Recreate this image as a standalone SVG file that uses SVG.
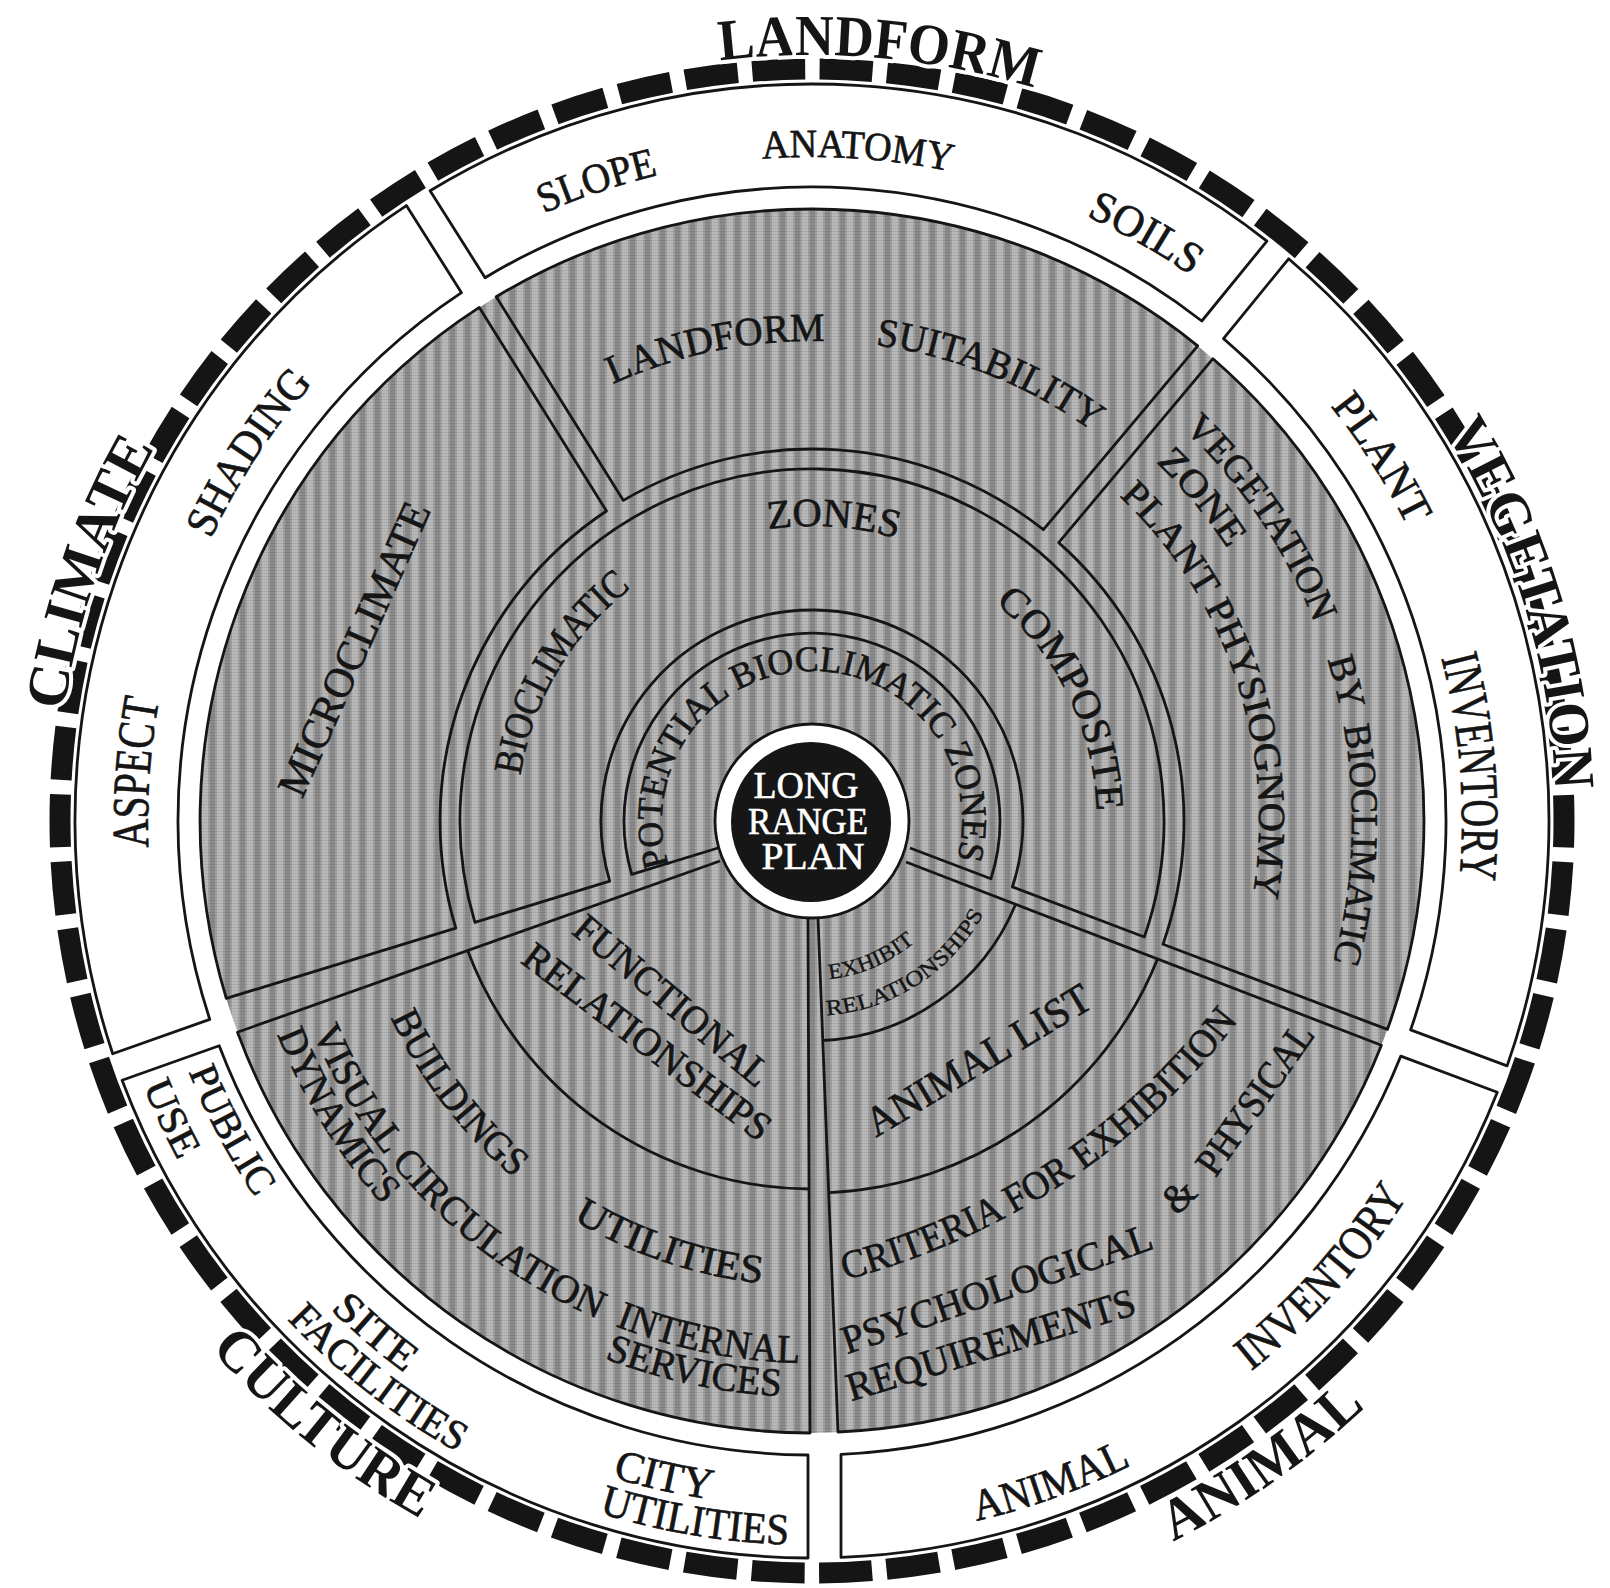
<svg xmlns="http://www.w3.org/2000/svg" width="1610" height="1588" viewBox="0 0 1610 1588">
<style>
.t{font-family:"Liberation Serif","Times New Roman",serif;fill:#151515;stroke:#151515;stroke-width:0.7px}
.big{font-size:58px;font-weight:bold;stroke:#fff;stroke-width:8px;paint-order:stroke;stroke-linejoin:round}
.w{fill:#fff;stroke:#fff;stroke-width:0.6px}
.ln{fill:none;stroke:#151515;stroke-width:2.8;stroke-linejoin:round}
.bx{fill:#fff;stroke:#151515;stroke-width:2.8;stroke-linejoin:round}
</style>
<defs>
<pattern id="hatch" width="15" height="3" patternUnits="userSpaceOnUse">
<rect width="15" height="3" fill="#b8b8b8"/>
<rect x="0" width="5" height="3" fill="#8a8a8a"/>
<rect x="5" width="2" height="3" fill="#a0a0a0"/>
<rect x="13" width="2" height="3" fill="#a0a0a0"/>
<rect width="15" height="1" fill="#000" fill-opacity="0.08"/>
</pattern>
<path id="cw766" d="M 812 1587 A 766 766 0 1 1 812 55 A 766 766 0 1 1 812 1587"/>
<path id="cw756" d="M 812 1577 A 756 756 0 1 1 812 65 A 756 756 0 1 1 812 1577"/>
<path id="cw744" d="M 812 1565 A 744 744 0 1 1 812 77 A 744 744 0 1 1 812 1565"/>
<path id="cw664" d="M 812 1485 A 664 664 0 1 1 812 157 A 664 664 0 1 1 812 1485"/>
<path id="cw650" d="M 812 1471 A 650 650 0 1 1 812 171 A 650 650 0 1 1 812 1471"/>
<path id="cw540" d="M 812 1361 A 540 540 0 1 1 812 281 A 540 540 0 1 1 812 1361"/>
<path id="cw497" d="M 812 1318 A 497 497 0 1 1 812 324 A 497 497 0 1 1 812 1318"/>
<path id="cw480" d="M 812 1301 A 480 480 0 1 1 812 341 A 480 480 0 1 1 812 1301"/>
<path id="cw447" d="M 812 1268 A 447 447 0 1 1 812 374 A 447 447 0 1 1 812 1268"/>
<path id="cw295" d="M 812 1116 A 295 295 0 1 1 812 526 A 295 295 0 1 1 812 1116"/>
<path id="cw285" d="M 812 1106 A 285 285 0 1 1 812 536 A 285 285 0 1 1 812 1106"/>
<path id="cw150" d="M 812 971 A 150 150 0 1 1 812 671 A 150 150 0 1 1 812 971"/>
<path id="ccw806" d="M 812 15 A 806 806 0 1 0 812 1627 A 806 806 0 1 0 812 15"/>
<path id="ccw800" d="M 812 21 A 800 800 0 1 0 812 1621 A 800 800 0 1 0 812 21"/>
<path id="ccw724" d="M 812 97 A 724 724 0 1 0 812 1545 A 724 724 0 1 0 812 97"/>
<path id="ccw719" d="M 812 102 A 719 719 0 1 0 812 1540 A 719 719 0 1 0 812 102"/>
<path id="ccw704" d="M 812 117 A 704 704 0 1 0 812 1525 A 704 704 0 1 0 812 117"/>
<path id="ccw686" d="M 812 135 A 686 686 0 1 0 812 1507 A 686 686 0 1 0 812 135"/>
<path id="ccw672" d="M 812 149 A 672 672 0 1 0 812 1493 A 672 672 0 1 0 812 149"/>
<path id="ccw576" d="M 812 245 A 576 576 0 1 0 812 1397 A 576 576 0 1 0 812 245"/>
<path id="ccw542" d="M 812 279 A 542 542 0 1 0 812 1363 A 542 542 0 1 0 812 279"/>
<path id="ccw465" d="M 812 356 A 465 465 0 1 0 812 1286 A 465 465 0 1 0 812 356"/>
<path id="ccw195" d="M 812 626 A 195 195 0 1 0 812 1016 A 195 195 0 1 0 812 626"/>
<path id="ccw159" d="M 812 662 A 159 159 0 1 0 812 980 A 159 159 0 1 0 812 662"/>
<path id="crit" d="M 845 1280 Q 1086 1215 1235 1025"/>
</defs>
<rect width="1610" height="1588" fill="#fff"/>

<g id="dash-ring">
<circle cx="812" cy="821" r="752" fill="none" stroke="#151515" stroke-width="21" stroke-dasharray="53 14.5" stroke-dashoffset="26.5"/>
</g>

<g id="boxes">
<g id="box-climate"><path class="bx" d="M 112.7 1053.8 A 737 737 0 0 1 406.4 205.6 L 461.5 292.7 A 634 634 0 0 0 209.8 1019.4 Z"/></g>
<g id="box-landform"><path class="bx" d="M 430.1 190.7 A 737 737 0 0 1 1266.9 241.1 L 1201.8 321.0 A 634 634 0 0 0 485.1 277.7 Z"/></g>
<g id="box-vegetation"><path class="bx" d="M 1288.6 258.8 A 737 737 0 0 1 1507.1 1065.9 L 1410.6 1029.9 A 634 634 0 0 0 1223.5 338.6 Z"/></g>
<g id="box-animal"><path class="bx" d="M 1497.3 1092.2 A 737 737 0 0 1 841 1557.4 L 841 1454.3 A 634 634 0 0 0 1400.8 1056.1 Z"/></g>
<g id="box-culture"><path class="bx" d="M 808 1558 A 737 737 0 0 1 122.1 1080.2 L 219.2 1045.8 A 634 634 0 0 0 808 1455 Z"/></g>
</g>

<g id="disk">
<circle cx="812" cy="821" r="612" fill="url(#hatch)"/>
</g>

<g id="connectors">
<path id="s-micro" class="ln" d="M 479.3 307.4 L 606.5 511.0 A 372 372 0 0 0 455.8 928.2 L 226.3 998.4 A 612 612 0 0 1 479.3 307.4 Z"/>
<path id="s-suit" class="ln" d="M 496.2 296.8 A 612 612 0 0 1 1197.7 345.8 L 1043.4 529.7 A 372 372 0 0 0 623.4 500.4 Z"/>
<path id="s-veg" class="ln" d="M 1213.0 358.7 A 612 612 0 0 1 1387.4 1029.4 L 1163.0 944.2 A 372 372 0 0 0 1058.7 542.6 Z"/>
<path id="s-ring" class="ln" d="M 474.9 922.3 A 352 352 0 1 1 1144.3 937.0 L 1012.4 886.9 A 211 211 0 1 0 609.7 881.1 Z"/>
<path id="s-pot" class="ln" d="M 718 848 L 631.7 874.4 A 188 188 0 1 1 990.9 878.8 L 910 848"/>
<path id="s-cult" class="ln" d="M 720 861 L 237.5 1032.2 A 612 612 0 0 0 810 1433 L 808 918"/>
<path id="s-func" class="ln" d="M 467.6 950.6 A 368 368 0 0 0 809.5 1189"/>
<path id="s-anim" class="ln" d="M 818 918 L 838 1432 A 612 612 0 0 0 1381.4 1045.2 L 906 862"/>
<path id="s-exh" class="ln" d="M 822.7 1040.5 A 220 220 0 0 0 1015.6 904.3"/>
<path id="s-alist" class="ln" d="M 828.7 1192.6 A 372 372 0 0 0 1157.5 958.9"/>
</g>

<g id="center">
<circle cx="812" cy="821" r="97" fill="#fff" stroke="#151515" stroke-width="2.8"/>
<circle cx="811" cy="822" r="80" fill="#161616"/>
<text class="t w" font-size="37" text-anchor="middle" x="806" y="798" textLength="105" lengthAdjust="spacingAndGlyphs">LONG</text>
<text class="t w" font-size="37" text-anchor="middle" x="808" y="834" textLength="120" lengthAdjust="spacingAndGlyphs">RANGE</text>
<text class="t w" font-size="37" text-anchor="middle" x="813" y="869" textLength="103" lengthAdjust="spacingAndGlyphs">PLAN</text>
</g>

<g id="outer-labels" text-anchor="middle">
<text class="t big" transform="rotate(5 812 821)"><textPath href="#cw766" startOffset="50%" textLength="318" lengthAdjust="spacingAndGlyphs">LANDFORM</textPath></text>
<text class="t big" transform="rotate(-71 812 821)"><textPath href="#cw756" startOffset="50%" textLength="280" lengthAdjust="spacingAndGlyphs">CLIMATE</textPath></text>
<text class="t big" transform="rotate(73 812 821)"><textPath href="#cw744" startOffset="50%" textLength="380" lengthAdjust="spacingAndGlyphs">VEGETATION</textPath></text>
<text class="t big" transform="rotate(39 812 821)"><textPath href="#ccw800" startOffset="50%" textLength="272" lengthAdjust="spacingAndGlyphs">CULTURE</textPath></text>
<text class="t big" transform="rotate(-35 812 821)"><textPath href="#ccw806" startOffset="50%" textLength="236" lengthAdjust="spacingAndGlyphs">ANIMAL</textPath></text>
</g>

<g id="box-labels" text-anchor="middle">
<text class="t" font-size="42" transform="rotate(-18.6 812 821)"><textPath href="#cw664" startOffset="50%" textLength="121" lengthAdjust="spacingAndGlyphs">SLOPE</textPath></text>
<text class="t" font-size="40" transform="rotate(3.9 812 821)"><textPath href="#cw664" startOffset="50%" textLength="190" lengthAdjust="spacingAndGlyphs">ANATOMY</textPath></text>
<text class="t" font-size="44" transform="rotate(29.6 812 821)"><textPath href="#cw664" startOffset="50%" textLength="121" lengthAdjust="spacingAndGlyphs">SOILS</textPath></text>
<text class="t" font-size="44" transform="rotate(-56.8 812 821)"><textPath href="#cw664" startOffset="50%" textLength="187" lengthAdjust="spacingAndGlyphs">SHADING</textPath></text>
<text class="t" font-size="52" transform="rotate(-85.9 812 821)"><textPath href="#cw664" startOffset="50%" textLength="148" lengthAdjust="spacingAndGlyphs">ASPECT</textPath></text>
<text class="t" font-size="44" transform="rotate(57.5 812 821)"><textPath href="#cw664" startOffset="50%" textLength="143" lengthAdjust="spacingAndGlyphs">PLANT</textPath></text>
<text class="t" font-size="54" transform="rotate(85.3 812 821)"><textPath href="#cw650" startOffset="50%" textLength="223" lengthAdjust="spacingAndGlyphs">INVENTORY</textPath></text>
<text class="t" font-size="48" transform="rotate(-48.2 812 821)"><textPath href="#ccw704" startOffset="50%" textLength="236" lengthAdjust="spacingAndGlyphs">INVENTORY</textPath></text>
<text class="t" font-size="44" transform="rotate(-19.8 812 821)"><textPath href="#ccw719" startOffset="50%" textLength="165" lengthAdjust="spacingAndGlyphs">ANIMAL</textPath></text>
<text class="t" font-size="44" transform="rotate(12.7 812 821)"><textPath href="#ccw686" startOffset="50%" textLength="101" lengthAdjust="spacingAndGlyphs">CITY</textPath></text>
<text class="t" font-size="44" transform="rotate(9.5 812 821)"><textPath href="#ccw724" startOffset="50%" textLength="193" lengthAdjust="spacingAndGlyphs">UTILITIES</textPath></text>
<text class="t" font-size="42" transform="rotate(40.5 812 821)"><textPath href="#ccw686" startOffset="50%" textLength="98" lengthAdjust="spacingAndGlyphs">SITE</textPath></text>
<text class="t" font-size="42" transform="rotate(37.9 812 821)"><textPath href="#ccw724" startOffset="50%" textLength="217" lengthAdjust="spacingAndGlyphs">FACILITIES</textPath></text>
<text class="t" font-size="40" transform="rotate(62 812 821)"><textPath href="#ccw672" startOffset="50%" textLength="143" lengthAdjust="spacingAndGlyphs">PUBLIC</textPath></text>
<text class="t" font-size="40" transform="rotate(65.1 812 821)"><textPath href="#ccw719" startOffset="50%" textLength="83" lengthAdjust="spacingAndGlyphs">USE</textPath></text>
</g>

<g id="sector-labels" text-anchor="middle">
<text class="t" font-size="40" transform="rotate(-11.5 812 821)"><textPath href="#cw480" startOffset="50%" textLength="218" lengthAdjust="spacingAndGlyphs">LANDFORM</textPath></text>
<text class="t" font-size="40" transform="rotate(21.7 812 821)"><textPath href="#cw480" startOffset="50%" textLength="236" lengthAdjust="spacingAndGlyphs">SUITABILITY</textPath></text>
<text class="t" font-size="42" transform="translate(354 649) rotate(-66)" y="14" textLength="317" lengthAdjust="spacingAndGlyphs">MICROCLIMATE</text>
<text class="t" font-size="40" transform="rotate(4.1 812 821)"><textPath href="#cw295" startOffset="50%" textLength="130" lengthAdjust="spacingAndGlyphs">ZONES</textPath></text>
<text class="t" font-size="40" transform="rotate(-59.5 812 821)"><textPath href="#cw295" startOffset="50%" textLength="223" lengthAdjust="spacingAndGlyphs">BIOCLIMATIC</textPath></text>
<text class="t" font-size="40" transform="rotate(64 812 821)"><textPath href="#cw285" startOffset="50%" textLength="239" lengthAdjust="spacingAndGlyphs">COMPOSITE</textPath></text>
<text class="t" font-size="36" transform="rotate(-1.25 812 821)"><textPath href="#cw150" startOffset="50%" textLength="555" lengthAdjust="spacingAndGlyphs">POTENTIAL BIOCLIMATIC ZONES</textPath></text>
<text class="t" font-size="38" transform="rotate(56 812 821)"><textPath href="#cw540" startOffset="50%" textLength="236" lengthAdjust="spacingAndGlyphs">VEGETATION</textPath></text>
<text class="t" font-size="38" transform="rotate(75.4 812 821)"><textPath href="#cw540" startOffset="50%">BY</textPath></text>
<text class="t" font-size="38" transform="rotate(92.5 812 821)"><textPath href="#cw540" startOffset="50%" textLength="238" lengthAdjust="spacingAndGlyphs">BIOCLIMATIC</textPath></text>
<text class="t" font-size="38" transform="rotate(50.3 812 821)"><textPath href="#cw497" startOffset="50%" textLength="113" lengthAdjust="spacingAndGlyphs">ZONE</textPath></text>
<text class="t" font-size="38" transform="rotate(71.6 812 821)"><textPath href="#cw447" startOffset="50%" textLength="440" lengthAdjust="spacingAndGlyphs">PLANT PHYSIOGNOMY</textPath></text>
<text class="t" font-size="40" transform="translate(672 1001) rotate(40)" y="13" textLength="243" lengthAdjust="spacingAndGlyphs">FUNCTIONAL</text>
<text class="t" font-size="40" transform="translate(647 1042) rotate(37)" y="13" textLength="300" lengthAdjust="spacingAndGlyphs">RELATIONSHIPS</text>
<text class="t" font-size="22" transform="rotate(-23.3 812 821)" style="stroke-width:0.4px"><textPath href="#ccw159" startOffset="50%" textLength="95" lengthAdjust="spacingAndGlyphs">EXHIBIT</textPath></text>
<text class="t" font-size="22" transform="rotate(-33 812 821)" style="stroke-width:0.4px"><textPath href="#ccw195" startOffset="50%" textLength="195" lengthAdjust="spacingAndGlyphs">RELATIONSHIPS</textPath></text>
<text class="t" font-size="42" transform="translate(978 1060) rotate(-31)" y="14" textLength="255" lengthAdjust="spacingAndGlyphs">ANIMAL LIST</text>
<text class="t" font-size="40" transform="rotate(52.4 812 821)"><textPath href="#ccw465" startOffset="50%" textLength="204" lengthAdjust="spacingAndGlyphs">BUILDINGS</textPath></text>
<text class="t" font-size="40" transform="rotate(45.2 812 821)"><textPath href="#ccw542" startOffset="50%" textLength="415" lengthAdjust="spacingAndGlyphs">VISUAL CIRCULATION</textPath></text>
<text class="t" font-size="40" transform="rotate(58.2 812 821)"><textPath href="#ccw576" startOffset="50%" textLength="202" lengthAdjust="spacingAndGlyphs">DYNAMICS</textPath></text>
<text class="t" font-size="40" transform="rotate(18.6 812 821)"><textPath href="#ccw465" startOffset="50%" textLength="201" lengthAdjust="spacingAndGlyphs">UTILITIES</textPath></text>
<text class="t" font-size="40" transform="rotate(11.3 812 821)"><textPath href="#ccw542" startOffset="50%" textLength="189" lengthAdjust="spacingAndGlyphs">INTERNAL</textPath></text>
<text class="t" font-size="40" transform="rotate(12.1 812 821)"><textPath href="#ccw576" startOffset="50%" textLength="181" lengthAdjust="spacingAndGlyphs">SERVICES</textPath></text>
<text class="t" font-size="40" text-anchor="start"><textPath href="#crit" startOffset="0" textLength="480" lengthAdjust="spacingAndGlyphs">CRITERIA FOR EXHIBITION</textPath></text>
<text class="t" font-size="40" transform="translate(997 1289) rotate(-19)" y="13" textLength="326" lengthAdjust="spacingAndGlyphs">PSYCHOLOGICAL</text>
<text class="t" font-size="40" transform="translate(991 1345) rotate(-17)" y="13" textLength="300" lengthAdjust="spacingAndGlyphs">REQUIREMENTS</text>
<text class="t" font-size="40" transform="translate(1179 1196) rotate(-45)" y="13">&amp;</text>
<text class="t" font-size="40" transform="translate(1255 1099) rotate(-55)" y="13" textLength="175" lengthAdjust="spacingAndGlyphs">PHYSICAL</text>
</g>
</svg>
